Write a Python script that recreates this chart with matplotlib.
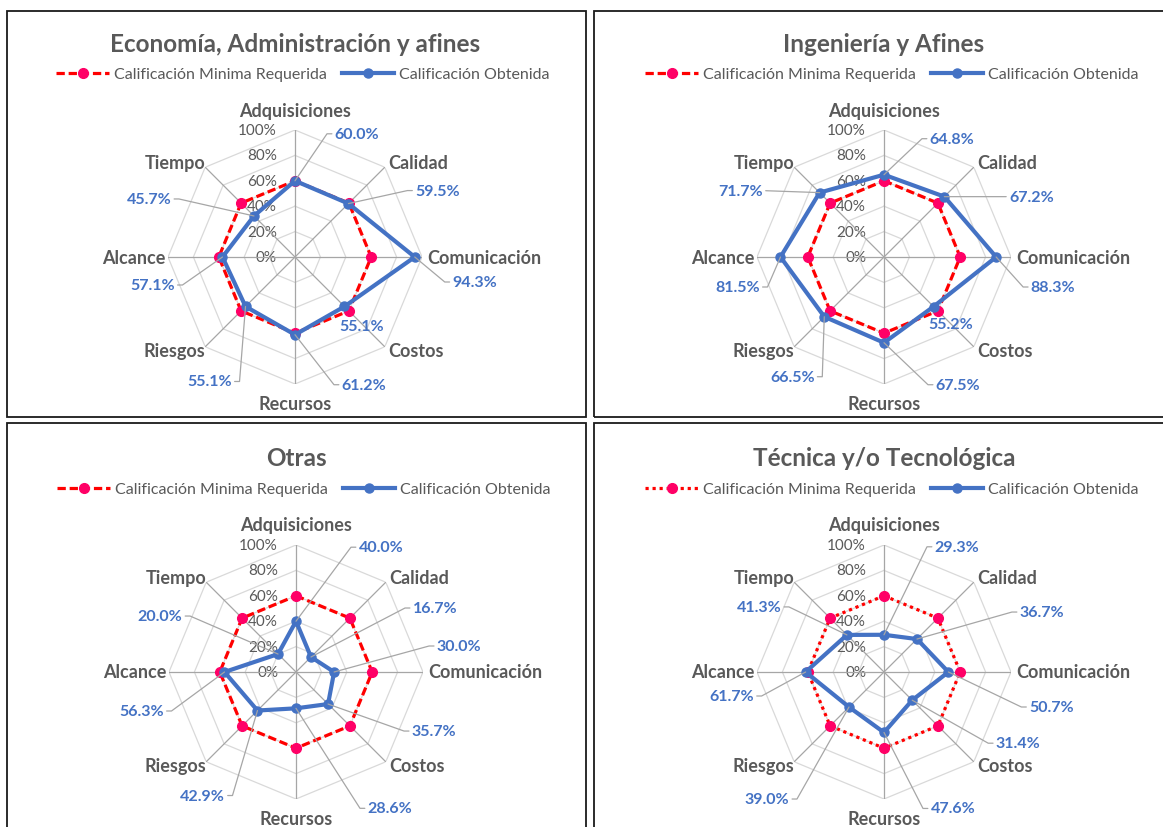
"""
Radar charts: calificacion minima requerida vs calificacion obtenida
por area de formacion. Guarda out.png (1163x828).
"""
import numpy as np
import matplotlib
matplotlib.use('Agg')
import matplotlib.pyplot as plt
from matplotlib.patches import Rectangle

# Datos
categorias = ['Adquisiciones', 'Calidad', 'Comunicación', 'Costos',
              'Recursos', 'Riesgos', 'Alcance', 'Tiempo']
niveles = [0, 20, 40, 60, 80, 100]
minima = [60.0, 60.0, 60.0, 60.0, 60.0, 60.0, 60.0, 60.0]

titulo_eco = 'Economía, Administración y afines'
titulo_ing = 'Ingeniería y Afines'
titulo_otras = 'Otras'
titulo_tec = 'Técnica y/o Tecnológica'

obtenida_eco = [60.0, 59.5, 94.3, 55.1, 61.2, 55.1, 57.1, 45.7]
obtenida_ing = [64.8, 67.2, 88.3, 55.2, 67.5, 66.5, 81.5, 71.7]
obtenida_otras = [40.0, 16.7, 30.0, 35.7, 28.6, 42.9, 56.3, 20.0]
obtenida_tec = [29.3, 36.7, 50.7, 31.4, 47.6, 39.0, 61.7, 41.3]

# posicion de las etiquetas de datos (pixeles respecto al punto)
pos_eco = [(62, 47), (89, 13), (60, -25), (17, -20), (69, -50), (-36, -75), (-70, -28), (-105, 17)]
pos_ing = [(68, 36), (87, 0), (57, -30), (17, -17), (74, -42), (-32, -60), (-43, -30), (-79, 2)]
pos_otras = [(85, 74), (124, 49), (125, 26), (106, -27), (94, -100), (-55, -85), (-83, -39), (-118, 38)]
pos_tec = [(73, 88), (125, 27), (103, -35), (106, -43), (69, -76), (-82, -92), (-74, -24), (-88, 28)]

# posicion de los nombres de categoria respecto al extremo del eje
pos_cat = [(0, 20, 'center'), (3, 5, 'left'), (5, 0, 'left'), (3, -4, 'left'),
           (0, -20, 'center'), (0, -4, 'right'), (-3, 0, 'right'), (0, 5, 'right')]

W, H = 1163, 828
R = 127
GRIS = '#595959'
AZUL = '#4472C4'
ROJO = '#FF0000'
ROSA = '#FF0066'

plt.rcParams['font.family'] = ['Lato', 'DejaVu Sans']
fig = plt.figure(figsize=(W / 100, H / 100), dpi=100)


def marco(x0, y0, x1, y1):
    fig.add_artist(Rectangle((x0 / W, 1 - y1 / H), (x1 - x0) / W, (y1 - y0) / H,
                             transform=fig.transFigure, fill=False,
                             ec='#1a1a1a', lw=1.3))


def cerrar(v):
    return list(v) + [v[0]]


def radar(cx, cy, titulo, valores, posiciones, estilo_min):
    ax = fig.add_axes([(cx - R) / W, 1 - (cy + R) / H, 2 * R / W, 2 * R / H],
                      projection='polar')
    ax.set_theta_zero_location('N')
    ax.set_theta_direction(-1)
    ax.set_ylim(0, 100)
    ax.set_axis_off()

    ang = np.linspace(0, 2 * np.pi, len(categorias), endpoint=False)
    ang_c = cerrar(ang)

    for n in niveles[1:]:
        ax.plot(ang_c, [n] * len(ang_c), color='#D9D9D9', lw=0.9, zorder=1)
    for a in ang:
        ax.plot([a, a], [0, 100], color='#A6A6A6', lw=0.9, zorder=1.5)

    for n in niveles:
        ax.annotate(f'{n}%', xy=(0, n), xytext=(-18, 0), textcoords='offset pixels',
                    ha='right', va='center', fontsize=11, color=GRIS, zorder=1.2)

    for a, nombre, (dx, dy, ha) in zip(ang, categorias, pos_cat):
        ax.annotate(nombre, xy=(a, 100), xytext=(dx, dy), textcoords='offset pixels',
                    ha=ha, va='center', fontsize=13, fontweight='bold', color=GRIS)

    l1, = ax.plot(ang_c, cerrar(minima), color=ROJO, lw=2.3, ls=estilo_min,
                  marker='o', ms=7, mfc=ROSA, mec=ROSA, markevery=range(8),
                  zorder=3, label='Calificación Minima Requerida')
    l2, = ax.plot(ang_c, cerrar(valores), color=AZUL, lw=3, marker='o', ms=6.5,
                  markevery=range(8), zorder=4, label='Calificación Obtenida')

    for a, v, (dx, dy) in zip(ang, valores, posiciones):
        flecha = None
        if np.hypot(dx, dy) > 32:
            lado = 1 if dx > 0 else -1
            codo = dx - lado * 30
            if abs(dy) < 4:
                estilo = 'arc3'
            else:
                estilo = f'angle,angleA=0,angleB={np.degrees(np.arctan2(dy, codo)):.2f}'
            flecha = dict(arrowstyle='-', color='#A6A6A6', lw=0.9, shrinkA=0, shrinkB=0,
                          relpos=(0 if lado > 0 else 1, 0.5), connectionstyle=estilo)
        ax.annotate(f'{v:.1f}%', xy=(a, v), xytext=(dx, dy), textcoords='offset pixels',
                    ha='center', va='center', fontsize=11.5, fontweight='bold',
                    color=AZUL, arrowprops=flecha, zorder=5)

    fig.text(cx / W, 1 - (cy - 214) / H, titulo, ha='center', va='center',
             fontsize=17.5, fontweight='bold', color=GRIS)
    ax.legend(handles=[l1, l2], loc='center', ncol=2, frameon=False,
              bbox_to_anchor=((cx + 8) / W, 1 - (cy - 183) / H),
              bbox_transform=fig.transFigure, fontsize=11.5, labelcolor=GRIS,
              handlelength=3.3, handletextpad=0.3, columnspacing=0.95,
              numpoints=1, borderpad=0)


marco(6.5, 12, 586, 418)
marco(594, 12, 1175, 418)
marco(6.5, 424, 586, 840)
marco(594, 424, 1175, 840)

radar(295, 258, titulo_eco, obtenida_eco, pos_eco, (0, (2.6, 1.2)))
radar(884, 258, titulo_ing, obtenida_ing, pos_ing, (0, (2.6, 1.2)))
radar(296, 673, titulo_otras, obtenida_otras, pos_otras, (0, (2.6, 1.2)))
radar(884, 673, titulo_tec, obtenida_tec, pos_tec, (0, (1, 1.2)))

fig.savefig('out.png', dpi=100)
